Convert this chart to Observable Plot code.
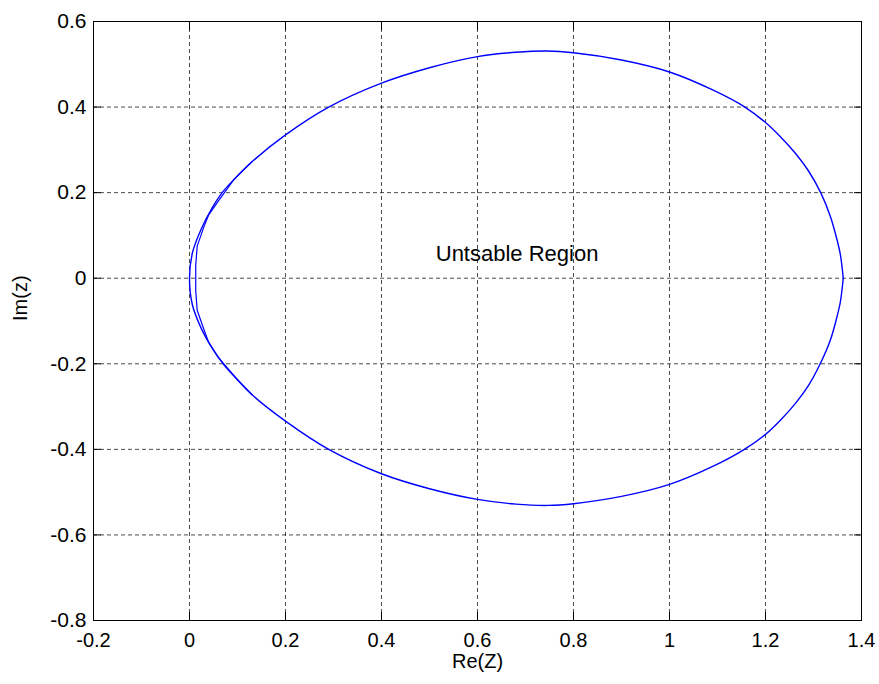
<!DOCTYPE html>
<html><head><meta charset="utf-8">
<script src="https://cdn.jsdelivr.net/npm/d3@7"></script>
<script src="https://cdn.jsdelivr.net/npm/@observablehq/plot@0.6"></script>
<style>body{margin:0;background:#fff}</style>
</head><body><div id="chart"></div>
<script>
// Tick values
const xTicks = [-0.2, 0, 0.2, 0.4, 0.6, 0.8, 1, 1.2, 1.4];
const yTicks = [-0.8, -0.6, -0.4, -0.2, 0, 0.2, 0.4, 0.6];

// Boundary locus (main trace): right end -> top -> origin -> bottom -> right end
const outerRe = [1.362, 1.356, 1.349, 1.335, 1.315, 1.290, 1.260, 1.230, 1.200, 1.157, 1.090, 1.000, 0.900, 0.800, 0.745, 0.680, 0.600, 0.500, 0.400, 0.290, 0.200, 0.130, 0.092, 0.068, 0.047, 0.024, 0.006, 0.000,
  0.006, 0.024, 0.047, 0.070, 0.098, 0.131, 0.200, 0.290, 0.400, 0.500, 0.600, 0.680, 0.747, 0.800, 0.900, 1.000, 1.090, 1.156, 1.200, 1.230, 1.262, 1.290, 1.314, 1.335, 1.349, 1.356, 1.362];
const outerIm = [0.000, 0.055, 0.090, 0.145, 0.200, 0.250, 0.295, 0.332, 0.364, 0.400, 0.440, 0.482, 0.510, 0.527, 0.531, 0.528, 0.518, 0.492, 0.456, 0.400, 0.335, 0.272, 0.230, 0.200, 0.164, 0.114, 0.059, 0.000,
  -0.062, -0.116, -0.163, -0.200, -0.235, -0.273, -0.334, -0.400, -0.457, -0.492, -0.517, -0.528, -0.531, -0.527, -0.510, -0.482, -0.440, -0.400, -0.365, -0.333, -0.293, -0.250, -0.200, -0.145, -0.090, -0.055, 0.000];

// Second, slightly offset trace near the origin
const innerRe = [0.130, 0.092, 0.060, 0.040, 0.030, 0.016, 0.013, 0.013, 0.016, 0.030, 0.040, 0.060, 0.098, 0.131];
const innerIm = [0.272, 0.230, 0.180, 0.148, 0.120, 0.075, 0.030, -0.030, -0.075, -0.120, -0.150, -0.185, -0.235, -0.273];

// Annotation
const noteText = ["Untsable Region"];
const noteRe = [0.513];
const noteIm = [0.057];

const outer = outerRe.map((x, i) => ({x, y: outerIm[i]}));
const inner = innerRe.map((x, i) => ({x, y: innerIm[i]}));
const fmt = d => String(+d.toFixed(1));
const font = "'Liberation Sans', Arial, Helvetica, sans-serif";

const chart = Plot.plot({
  width: 879,
  height: 684,
  marginLeft: 93,
  marginRight: 18,
  marginTop: 21,
  marginBottom: 64,
  style: {fontFamily: font, fontSize: "20px", background: "#fff", color: "#000"},
  x: {domain: [-0.2, 1.4], label: null},
  y: {domain: [-0.8, 0.6], label: null},
  marks: [
    Plot.gridX(xTicks, {stroke: "#000", strokeOpacity: 0.7, strokeDasharray: "4,3"}),
    Plot.gridY(yTicks, {stroke: "#000", strokeOpacity: 0.7, strokeDasharray: "4,3"}),
    Plot.axisX(xTicks, {anchor: "bottom", tickSize: 0, tickPadding: 12, tickFormat: fmt, fontSize: 20}),
    Plot.axisY(yTicks, {anchor: "left", tickSize: 0, tickPadding: 7, tickFormat: fmt, fontSize: 21}),
    Plot.axisX(xTicks, {anchor: "bottom", tickSize: -8, tickFormat: () => ""}),
    Plot.axisX(xTicks, {anchor: "top", tickSize: -8, tickFormat: () => ""}),
    Plot.axisY(yTicks, {anchor: "left", tickSize: -8, tickFormat: () => ""}),
    Plot.axisY(yTicks, {anchor: "right", tickSize: -8, tickFormat: () => ""}),
    Plot.frame({stroke: "#000"}),
    Plot.line(outer, {x: "x", y: "y", stroke: "#0000ff", strokeWidth: 1.4, curve: "catmull-rom"}),
    Plot.line(inner, {x: "x", y: "y", stroke: "#0000ff", strokeWidth: 1.2}),
    Plot.text(noteText, {x: noteRe, y: noteIm, text: d => d, textAnchor: "start", fontSize: 22, fill: "#000"}),
    Plot.text(["Re(Z)"], {frameAnchor: "bottom", dy: 47, fontSize: 20, fill: "#000"}),
    Plot.text(["Im(z)"], {frameAnchor: "left", rotate: -90, dx: -73, fontSize: 20, fill: "#000"})
  ]
});
document.getElementById("chart").appendChild(chart);
</script>
</body></html>
